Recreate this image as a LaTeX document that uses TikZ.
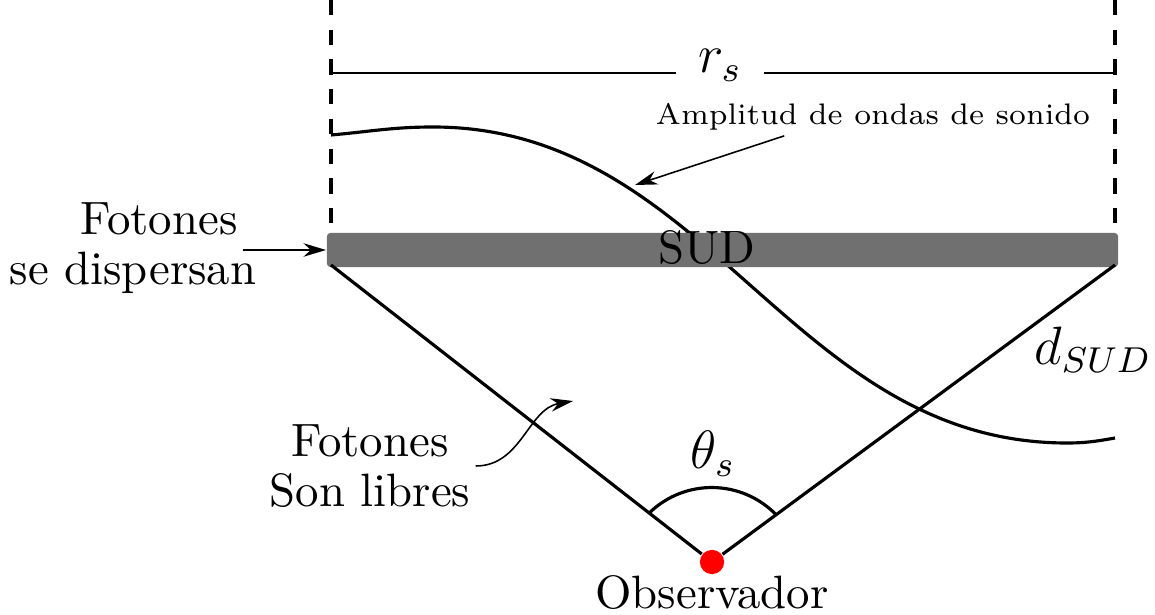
\documentclass[tikz,border=0pt]{standalone}
\usepackage{amsmath,amssymb}
\usepackage{tikz}
\usepackage{xcolor}
\usetikzlibrary{arrows.meta,positioning,calc}
\definecolor{ink}    {HTML}{000000}
\definecolor{sudgray}{HTML}{707070}
\definecolor{obsred} {HTML}{FF0000}
\tikzset{
  guide/.style ={draw=ink, dash pattern=on 3.4pt off 3.2pt, line width=0.7pt},
  ray/.style   ={draw=ink, line width=0.7pt},
  wave/.style  ={ray},
  span/.style  ={draw=ink, line width=0.5pt},
  arr/.style   ={-{Stealth[length=5pt,width=3pt]}, line width=0.35pt},
  lbl/.style   ={font=\fontsize{10.4}{11}\selectfont, align=center, text=ink},
  mlbl/.style  ={font=\large, text=ink},
  note/.style  ={font=\fontsize{6.6}{8}\selectfont, text=ink, inner sep=1pt},
  bar/.style   ={fill=sudgray, rounded corners=0.8pt, inner sep=0pt,
                 minimum width=175.8pt, minimum height=7.6pt},
  dot/.style   ={circle, fill=obsred, inner sep=0pt, minimum size=5.4pt},
}
\begin{document}
\begin{tikzpicture}[x=0.2222pt,y=0.2222pt]
  \useasboundingbox (0,0) rectangle (1155,614);

  % edges of the scattering region
  \coordinate (tl) at (331,614);
  \coordinate (tr) at (1115,614);
  \coordinate (bl) at (331,349);
  \coordinate (br) at (1115,349);
  \coordinate (rl) at (331,541);
  \coordinate (rr) at (1115,541);

  \draw[guide] (tl) -- (bl);
  \draw[guide] (tr) -- (br);
  \draw[span] (rl) -- (rr);
  \node[mlbl, fill=white, inner xsep=5pt, inner ysep=3pt, anchor=base] (rs) at (720,541) {$r_s$};

  % sound wave
  \draw[wave] (331,479) to[out=5,in=180] (433,487)
              to[out=0,in=180] (1067,171) to[out=0,in=190] (1115,176);

  \node[bar] (bar) at (722.5,364) {};
  \node[lbl] (sud) at (707,366) {SUD};

  % observer and rays
  \node[dot] (obs) at (712,52) {};
  \node[lbl, below=0pt of obs, inner sep=0pt] (obslbl) {Observador};
  \draw[ray] (bl) -- (obs);
  \draw[ray] (br) -- (obs);

  \coordinate (al) at ($(obs.center)!17.7pt!(bl)$);
  \coordinate (ar) at ($(obs.center)!17.7pt!(br)$);
  \draw[ray] (al) to[bend left=45] node[mlbl, above, inner sep=2pt] (theta) {$\theta_s$} (ar);

  \node[mlbl] (dsud) at (1093,264) {$d_{SUD}$};

  % labels with arrows
  \node[note] (amp) at (873,497) {Amplitud de ondas de sonido};
  \coordinate (wavept) at (635,429);
  \draw[arr] (amp.-168) -- (wavept);

  \node[lbl] (disp) at (133,366) {\hspace*{11.6pt}Fotones\\se dispersan};
  \coordinate (disparr) at (243,364);
  \draw[arr] (disparr) -- (bar.west);

  \node[lbl, inner sep=1pt] (free) at (370,148) {Fotones\\Son libres};
  \coordinate (freetip) at (573,213);
  \draw[arr] (free.east) to[out=0,in=190] (freetip);
\end{tikzpicture}
\end{document}
